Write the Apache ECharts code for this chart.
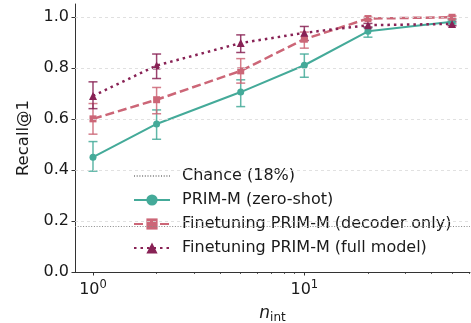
<!DOCTYPE html>
<html>
<head>
<meta charset="utf-8">
<script src="https://cdn.jsdelivr.net/npm/echarts@6.0.0/dist/echarts.min.js"></script>
<style>
  html, body { margin: 0; padding: 0; background: #fff; }
  #chart { width: 471px; height: 323px; }
</style>
</head>
<body>
<div id="chart"></div>
<script>
// number of interactions on the x axis (log scale)
const xValues = [1, 2, 5, 10, 20, 50];

const zeroShotMean = [0.45, 0.58, 0.705, 0.81, 0.943, 0.98];
const zeroShotLow = [0.395, 0.52, 0.648, 0.763, 0.92, 0.972];
const zeroShotHigh = [0.511, 0.635, 0.753, 0.854, 0.957, 0.988];

const decoderMean = [0.60, 0.675, 0.788, 0.912, 0.993, 0.998];
const decoderLow = [0.54, 0.62, 0.74, 0.877, 0.988, 0.993];
const decoderHigh = [0.66, 0.723, 0.836, 0.94, 0.998, 1.003];

const fullMean = [0.69, 0.809, 0.897, 0.937, 0.967, 0.972];
const fullLow = [0.64, 0.758, 0.86, 0.907, 0.96, 0.965];
const fullHigh = [0.745, 0.854, 0.929, 0.962, 0.974, 0.98];

const chanceLevel = 0.18;

const yTicks = [0, 0.2, 0.4, 0.6, 0.8, 1.0];
const xMajorTicks = [1, 10];
const xMinorTicks = [2, 3, 4, 5, 6, 7, 8, 9, 20, 30, 40, 50, 60];

const FONT = 'DejaVu Sans';
const TEXT = '#1a1a1a';
const COLORS = { zero: '#44AA99', decoder: '#CC6677', full: '#882255' };

const pairs = (ys) => xValues.map((x, i) => [x, ys[i]]);
const bars = (lo, hi) => xValues.map((x, i) => [x, lo[i], hi[i]]);

function errorBarSeries(name, data, color) {
  return {
    type: 'custom',
    name: name + ' err',
    data: data,
    encode: { x: 0, y: [1, 2] },
    z: 2,
    silent: true,
    renderItem: (params, api) => {
      const x = api.value(0);
      const lo = api.coord([x, api.value(1)]);
      const hi = api.coord([x, api.value(2)]);
      const half = 4.5;
      const style = { stroke: color, lineWidth: 1.5, opacity: 0.85 };
      return {
        type: 'group',
        children: [
          { type: 'line', shape: { x1: lo[0], y1: lo[1], x2: hi[0], y2: hi[1] }, style },
          { type: 'line', shape: { x1: lo[0] - half, y1: lo[1], x2: lo[0] + half, y2: lo[1] }, style },
          { type: 'line', shape: { x1: hi[0] - half, y1: hi[1], x2: hi[0] + half, y2: hi[1] }, style }
        ]
      };
    }
  };
}

const chart = echarts.init(document.getElementById('chart'), null, { renderer: 'canvas' });

const option = {
  animation: false,
  textStyle: { fontFamily: FONT, color: TEXT },
  grid: { left: 75, right: 1, top: 4, bottom: 51, containLabel: false, outerBoundsMode: 'none' },
  legend: {
    orient: 'vertical',
    left: 128,
    top: 163,
    itemWidth: 36,
    itemHeight: 14,
    itemGap: 8,
    data: ['Chance (18%)', 'PRIM-M (zero-shot)', 'Finetuning PRIM-M (decoder only)', 'Finetuning PRIM-M (full model)'],
    textStyle: { fontFamily: FONT, fontSize: 16, color: TEXT, padding: [0, 0, 0, 7] }
  },
  xAxis: [
    {
      type: 'log',
      min: 0.822,
      max: 60.8,
      name: '{n|n}{sub|int}',
      nameLocation: 'middle',
      nameGap: 31,
      nameTextStyle: {
        rich: {
          n: { fontFamily: FONT, fontSize: 17, fontStyle: 'italic', color: TEXT },
          sub: { fontFamily: FONT, fontSize: 12, color: TEXT, padding: [9, 0, 0, 0] }
        }
      },
      axisLine: { show: true, onZero: false, lineStyle: { color: '#333', width: 1 } },
      axisTick: { show: true, length: 3.5, customValues: xMajorTicks, lineStyle: { color: '#333' } },
      axisLabel: {
        customValues: xMajorTicks,
        margin: 7,
        formatter: (v) => '{b|10}{s|' + Math.round(Math.log10(v)) + '}',
        rich: {
          b: { fontFamily: FONT, fontSize: 16, color: TEXT },
          s: { fontFamily: FONT, fontSize: 11.5, color: TEXT, padding: [0, 0, 9, 0] }
        }
      },
      splitLine: { show: false },
      minorTick: { show: false }
    },
    {
      type: 'log',
      min: 0.822,
      max: 60.8,
      position: 'bottom',
      axisLine: { show: false },
      axisTick: { show: true, length: 2, customValues: xMinorTicks, lineStyle: { color: '#333', width: 0.8 } },
      axisLabel: { show: false },
      splitLine: { show: false }
    }
  ],
  yAxis: {
    type: 'value',
    min: 0,
    max: 1.05,
    name: 'Recall@1',
    nameLocation: 'middle',
    nameGap: 43,
    nameTextStyle: { fontFamily: FONT, fontSize: 16.5, color: TEXT },
    axisLine: { show: true, lineStyle: { color: '#333', width: 1 } },
    axisTick: { show: true, length: 3.5, customValues: yTicks, lineStyle: { color: '#333' } },
    axisLabel: {
      customValues: yTicks,
      fontFamily: FONT,
      fontSize: 16,
      color: TEXT,
      margin: 6,
      formatter: (v) => v.toFixed(1)
    },
    splitLine: { show: false }
  },
  series: [
    {
      name: 'Chance (18%)',
      type: 'line',
      data: [],
      symbol: 'none',
      lineStyle: { color: '#999', width: 1, type: [1, 1.7] },
      itemStyle: { color: '#999', opacity: 0 },
      markLine: {
        silent: true,
        symbol: 'none',
        label: { show: false },
        lineStyle: { color: '#888', width: 1, type: [1, 1.7], opacity: 1 },
        data: [{ yAxis: chanceLevel }]
      }
    },
    {
      name: 'grid',
      type: 'line',
      data: [],
      silent: true,
      markLine: {
        silent: true,
        symbol: 'none',
        label: { show: false },
        lineStyle: { color: '#d9d9d9', width: 0.8, type: [3, 3] },
        data: yTicks.filter((v) => v > 0).map((v) => ({ yAxis: v }))
      }
    },
    errorBarSeries('PRIM-M (zero-shot)', bars(zeroShotLow, zeroShotHigh), COLORS.zero),
    errorBarSeries('Finetuning PRIM-M (decoder only)', bars(decoderLow, decoderHigh), COLORS.decoder),
    errorBarSeries('Finetuning PRIM-M (full model)', bars(fullLow, fullHigh), COLORS.full),
    {
      name: 'PRIM-M (zero-shot)',
      type: 'line',
      data: pairs(zeroShotMean),
      symbol: 'circle',
      symbolSize: 7,
      z: 3,
      lineStyle: { color: COLORS.zero, width: 2 },
      itemStyle: { color: COLORS.zero }
    },
    {
      name: 'Finetuning PRIM-M (decoder only)',
      type: 'line',
      data: pairs(decoderMean),
      symbol: 'rect',
      symbolSize: 7,
      z: 3,
      lineStyle: { color: COLORS.decoder, width: 2.5, type: [9, 4] },
      itemStyle: { color: COLORS.decoder }
    },
    {
      name: 'Finetuning PRIM-M (full model)',
      type: 'line',
      data: pairs(fullMean),
      symbol: 'triangle',
      symbolSize: 8,
      z: 3,
      lineStyle: { color: COLORS.full, width: 2.5, type: [2.5, 4] },
      itemStyle: { color: COLORS.full }
    }
  ]
};

chart.setOption(option);
</script>
</body>
</html>
